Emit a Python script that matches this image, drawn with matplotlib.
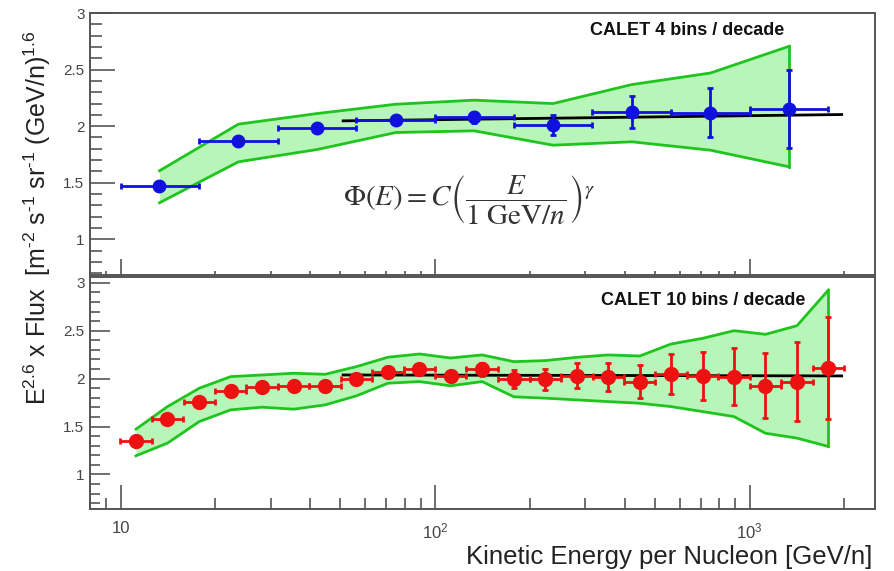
import matplotlib
matplotlib.use("Agg")
import matplotlib.pyplot as plt
import numpy as np
from matplotlib.ticker import LogLocator, MultipleLocator, NullFormatter, FuncFormatter

plt.rcParams['font.family'] = ['Liberation Sans', 'DejaVu Sans']
plt.rcParams['mathtext.fontset'] = 'stix'

# ---- 4 bins / decade ----
e4 = [13.3, 23.7, 42.2, 75.0, 133, 237, 422, 750, 1334]
e4_lo = [10.0, 17.8, 31.6, 56.2, 100, 178, 316, 562, 1000]
e4_hi = [17.8, 31.6, 56.2, 100, 178, 316, 562, 1000, 1778]
f4 = [1.473, 1.868, 1.985, 2.059, 2.077, 2.009, 2.126, 2.120, 2.150]
f4_err = [0.02, 0.02, 0.02, 0.03, 0.05, 0.09, 0.14, 0.215, 0.345]
band4_hi = [1.606, 2.018, 2.112, 2.194, 2.230, 2.200, 2.368, 2.470, 2.706]
band4_lo = [1.323, 1.685, 1.794, 1.944, 1.959, 1.832, 1.862, 1.788, 1.641]

# ---- 10 bins / decade ----
e10 = [11.2, 14.1, 17.8, 22.4, 28.2, 35.5, 44.7, 56.2, 70.8, 89.1, 112, 141,
       178, 224, 282, 355, 447, 562, 708, 891, 1122, 1413, 1778]
f10 = [1.344, 1.580, 1.754, 1.872, 1.917, 1.924, 1.924, 1.994, 2.073, 2.100,
       2.028, 2.098, 1.997, 1.992, 2.031, 2.021, 1.969, 2.045, 2.028, 2.021,
       1.927, 1.969, 2.108]
f10_err = [0.02, 0.02, 0.02, 0.02, 0.02, 0.02, 0.02, 0.025, 0.03, 0.035,
           0.04, 0.07, 0.095, 0.11, 0.128, 0.147, 0.168, 0.21, 0.25, 0.30,
           0.34, 0.41, 0.53]
band10_hi = [1.473, 1.708, 1.900, 2.021, 2.038, 2.056, 2.045, 2.125, 2.223,
             2.257, 2.215, 2.247, 2.177, 2.188, 2.222, 2.247, 2.236, 2.361,
             2.420, 2.500, 2.462, 2.552, 2.924]
band10_lo = [1.195, 1.327, 1.552, 1.674, 1.702, 1.681, 1.726, 1.820, 1.952,
             1.969, 1.925, 1.969, 1.810, 1.796, 1.778, 1.760, 1.743, 1.708,
             1.656, 1.604, 1.430, 1.379, 1.292]

# power-law fit lines
fit_e = [51, 1960]
fit4 = [2.047, 2.103]
fit10 = [2.038, 2.028]

fig = plt.figure(figsize=(8.95, 5.71), dpi=100)
ax1 = fig.add_axes([0.1006, 0.5184, 0.877, 0.4588])
ax2 = fig.add_axes([0.1006, 0.1086, 0.877, 0.4063])

band_fill = '#b8f5b8'
band_edge = '#1fc41f'
axcol = '#555555'


def draw_band(ax, x, lo, hi):
    ax.fill_between(x, lo, hi, color=band_fill, lw=0, zorder=1)
    ax.plot(x, hi, color=band_edge, lw=2, zorder=2)
    ax.plot(x, lo, color=band_edge, lw=2, zorder=2)
    ax.plot([x[-1], x[-1]], [lo[-1], hi[-1]], color=band_edge, lw=2, zorder=2)


# top panel
draw_band(ax1, e4, band4_lo, band4_hi)
ax1.plot(fit_e, fit4, color='black', lw=2, zorder=3)
xerr4 = [np.array(e4) - np.array(e4_lo), np.array(e4_hi) - np.array(e4)]
ax1.errorbar(e4, f4, yerr=f4_err, xerr=xerr4, fmt='o', color='#1010e0',
             ms=9, elinewidth=2, capsize=2.5, capthick=2, zorder=4)

# bottom panel
draw_band(ax2, e10, band10_lo, band10_hi)
ax2.plot(fit_e, fit10, color='black', lw=2, zorder=3)
e10a = np.array(e10)
xerr10 = [e10a - e10a / 10 ** 0.05, e10a * 10 ** 0.05 - e10a]
ax2.errorbar(e10, f10, yerr=f10_err, xerr=xerr10, fmt='o', color='#ee1111',
             ms=10, elinewidth=2, capsize=2.5, capthick=2, zorder=4)

for ax, ylim, ymaj, ymin, xmaj, xmin in [(ax1, (0.685, 3.0), 18, 8.6, 11.5, 3.2),
                                         (ax2, (0.64, 3.06), 14.5, 7.2, 17, 8)]:
    ax.set_xscale('log')
    ax.set_xlim(8.0, 2500)
    ax.set_ylim(*ylim)
    ax.yaxis.set_major_locator(MultipleLocator(0.5))
    ax.yaxis.set_minor_locator(MultipleLocator(0.1))
    ax.yaxis.set_major_formatter(FuncFormatter(lambda v, p: '%g' % v))
    ax.xaxis.set_major_locator(LogLocator(base=10, numticks=10))
    ax.xaxis.set_minor_locator(LogLocator(base=10, subs=np.arange(2, 10), numticks=20))
    ax.xaxis.set_minor_formatter(NullFormatter())
    ax.tick_params(axis='y', which='major', direction='in', length=ymaj, width=1.2,
                   color=axcol, labelcolor='#444444', labelsize=11, pad=4)
    ax.tick_params(axis='y', which='minor', direction='in', length=ymin, width=1.2,
                   color=axcol)
    ax.tick_params(axis='x', which='major', direction='in', length=xmaj, width=1.2,
                   color=axcol, labelcolor='#444444', labelsize=12, pad=9)
    ax.tick_params(axis='x', which='minor', direction='in', length=xmin, width=1.2,
                   color=axcol)
    for s in ax.spines.values():
        s.set_color(axcol)
        s.set_linewidth(1.4)

ax1.tick_params(axis='x', which='both', labelbottom=False)
ax2.xaxis.set_major_formatter(FuncFormatter(
    lambda v, p: '10' if abs(v - 10) < 1e-6 else r'$\mathregular{10^{%d}}$' % round(np.log10(v))))

ax1.text(0.885, 0.935, 'CALET 4 bins / decade', transform=ax1.transAxes,
         ha='right', va='center', fontsize=13, fontweight='bold', color='#111111')
ax2.text(0.911, 0.898, 'CALET 10 bins / decade', transform=ax2.transAxes,
         ha='right', va='center', fontsize=13, fontweight='bold', color='#111111')

ax1.text(0.322, 0.285, r'$\Phi(E) = C\left(\dfrac{E}{1\ \mathrm{GeV}/n}\right)^{\gamma}$',
         transform=ax1.transAxes, ha='left', va='center', fontsize=21, color='#333333')

fig.text(0.042, 0.618,
         r'E$\mathregular{^{2.6}}$ x Flux  [m$\mathregular{^{\text{-}2}}$ s$\mathregular{^{\text{-}1}}$'
         r' sr$\mathregular{^{\text{-}1}}$ (GeV/n)$\mathregular{^{1.6}}$',
         rotation=90, ha='center', va='center', fontsize=18, color='#222222')
fig.text(0.975, 0.025, 'Kinetic Energy per Nucleon [GeV/n]', ha='right', va='center',
         fontsize=18.5, color='#222222')

fig.savefig('out.png', dpi=100)
